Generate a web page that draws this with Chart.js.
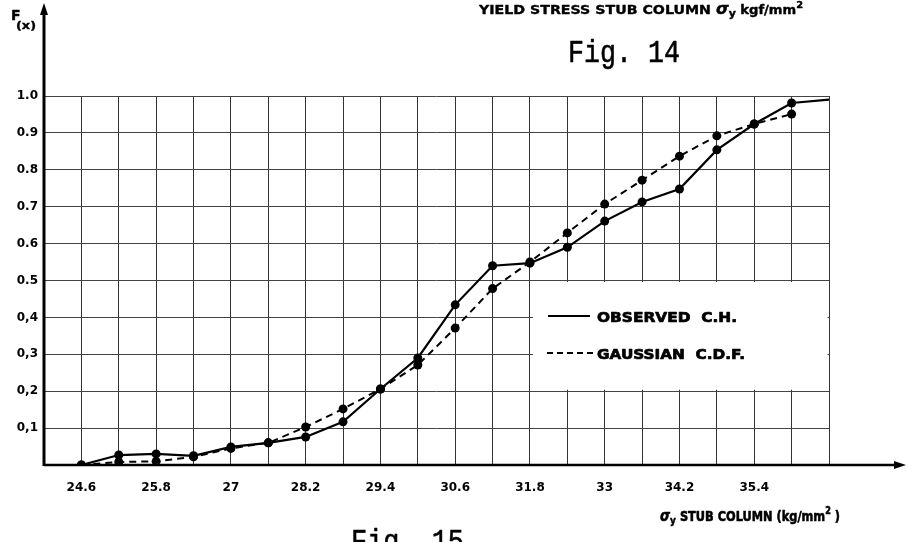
<!DOCTYPE html>
<html><head><meta charset="utf-8">
<script src="https://cdn.jsdelivr.net/npm/chart.js@4.4.0/dist/chart.umd.min.js"></script>
<style>html,body{margin:0;padding:0;background:#fff;} canvas{display:block;}</style>
</head><body>
<canvas id="c" width="909" height="542"></canvas>
<script>
// ---- data ----
const xValues = [24.6,25.2,25.8,26.4,27.0,27.6,28.2,28.8,29.4,30.0,30.6,31.2,31.8,32.4,33.0,33.6,34.2,34.8,35.4,36.0,36.6];
const observed = [0,0.027,0.03,0.025,0.049,0.06,0.076,0.117,0.206,0.29,0.434,0.54,0.547,0.59,0.661,0.713,0.748,0.854,0.924,0.981,0.99];
const gaussian = [0,0.008,0.01,0.022,0.045,0.06,0.103,0.152,0.206,0.271,0.371,0.478,0.55,0.629,0.707,0.772,0.837,0.892,0.924,0.951];
const xLabelValues = [24.6,25.8,27.0,28.2,29.4,30.6,31.8,33.0,34.2,35.4];
const xLabelTexts = ['24.6','25.8','27','28.2','29.4','30.6','31.8','33','34.2','35.4'];
const yTickValues = [0.1,0.2,0.3,0.4,0.5,0.6,0.7,0.8,0.9,1.0];
const yTickTexts = ['0,1','0,2','0,3','0,4','0.5','0.6','0.7','0.8','0.9','1.0'];
const seriesNames = ['OBSERVED  C.H.','GAUSSIAN  C.D.F.'];

const BOLD = '"DejaVu Sans", sans-serif';

function rich(ctx, x, y, parts, targetW, sy, stroke) {
  ctx.save();
  let tot = 0;
  const ws = parts.map(p => { ctx.font = p.f; const w = ctx.measureText(p.t).width; tot += w; return w; });
  const sx = targetW ? targetW / tot : 1;
  ctx.translate(x, y); ctx.scale(sx, sy || 1);
  ctx.fillStyle = '#000'; ctx.strokeStyle = '#000'; ctx.textBaseline = 'alphabetic'; ctx.textAlign = 'left';
  ctx.lineWidth = stroke || 0; ctx.lineJoin = 'round';
  let cx = 0;
  parts.forEach((p, i) => {
    ctx.font = p.f; ctx.fillText(p.t, cx, p.dy || 0);
    if (stroke) ctx.strokeText(p.t, cx, p.dy || 0);
    cx += ws[i];
  });
  ctx.restore();
}

const decor = {
  id: 'decor',
  beforeDatasetsDraw(chart) {
    const ctx = chart.ctx, xs = chart.scales.x, ys = chart.scales.y;
    ctx.save();
    ctx.fillStyle = '#fff';
    const l = xs.getPixelForValue(31.8) + 3, r = xs.getPixelForValue(36.6) - 1.5;
    const t = ys.getPixelForValue(0.5) + 1.5, b = ys.getPixelForValue(0.2) - 1.5;
    ctx.fillRect(l, t, r - l, b - t);
    ctx.restore();
  },
  afterDraw(chart) {
    const ctx = chart.ctx, a = chart.chartArea;
    ctx.save();
    ctx.strokeStyle = '#000'; ctx.fillStyle = '#000';
    ctx.lineWidth = 3;
    ctx.beginPath(); ctx.moveTo(a.left, a.bottom + 1); ctx.lineTo(a.left, 10); ctx.stroke();
    ctx.beginPath(); ctx.moveTo(a.left, 3); ctx.lineTo(a.left - 4, 15); ctx.lineTo(a.left + 4, 15); ctx.closePath(); ctx.fill();
    ctx.lineWidth = 2.5;
    ctx.beginPath(); ctx.moveTo(a.left, a.bottom); ctx.lineTo(897, a.bottom); ctx.stroke();
    ctx.beginPath(); ctx.moveTo(906, a.bottom); ctx.lineTo(894, a.bottom - 4); ctx.lineTo(894, a.bottom + 4); ctx.closePath(); ctx.fill();
    ctx.lineWidth = 2;
    ctx.beginPath(); ctx.moveTo(548, 316); ctx.lineTo(590, 316); ctx.stroke();
    ctx.setLineDash([6, 4]);
    ctx.beginPath(); ctx.moveTo(547, 353); ctx.lineTo(593, 353); ctx.stroke();
    ctx.setLineDash([]);
    ctx.restore();
    rich(ctx, 597, 322, [{t: seriesNames[0], f: 'bold 14px ' + BOLD}], 140, 1, 0.7);
    rich(ctx, 597, 359, [{t: seriesNames[1], f: 'bold 14px ' + BOLD}], 148, 1, 0.7);
    rich(ctx, 11, 20, [{t: 'F', f: 'bold 14px ' + BOLD}], 0, 1, 0.4);
    rich(ctx, 16, 29, [{t: '(x)', f: 'bold 11px ' + BOLD}], 20, 1, 0.4);
    rich(ctx, 479, 14, [
      {t: 'YIELD STRESS STUB COLUMN ', f: 'bold 13px ' + BOLD},
      {t: 'σ', f: 'italic bold 15px ' + BOLD},
      {t: 'y', f: 'bold 10px ' + BOLD, dy: 3},
      {t: ' kgf/mm', f: 'bold 12px ' + BOLD},
      {t: '2', f: 'bold 9px ' + BOLD, dy: -6}
    ], 324, 1, 0.4);
    rich(ctx, 568, 62, [{t: 'Fig. 14', f: '28px "Liberation Mono", monospace'}], 112, 1.15, 0.5);
    rich(ctx, 660, 521, [
      {t: 'σ', f: 'italic bold 16px ' + BOLD},
      {t: 'y', f: 'bold 11px ' + BOLD, dy: 3},
      {t: ' STUB COLUMN (kg/mm', f: 'bold 14px ' + BOLD},
      {t: '2', f: 'bold 10px ' + BOLD, dy: -7},
      {t: ' )', f: 'bold 14px ' + BOLD}
    ], 180, 1, 0.6);
    rich(ctx, 351, 551, [{t: 'Fig. 15', f: '28px "Liberation Mono", monospace'}], 113, 1.15, 0.5);
  }
};

new Chart(document.getElementById('c'), {
  type: 'line',
  data: {
    datasets: [
      {
        label: seriesNames[0],
        data: observed.map((y, i) => ({x: xValues[i], y})),
        borderColor: '#000', backgroundColor: '#000',
        borderWidth: 2.2,
        pointRadius: ctx => ctx.dataIndex === observed.length - 1 ? 0 : 4.5,
        pointBackgroundColor: '#000', pointBorderWidth: 0,
        tension: 0
      },
      {
        label: seriesNames[1],
        data: gaussian.map((y, i) => ({x: xValues[i], y})),
        borderColor: '#000', backgroundColor: '#000',
        borderWidth: 2, borderDash: [7, 5],
        pointRadius: 4.5, pointBackgroundColor: '#000', pointBorderWidth: 0,
        tension: 0
      }
    ]
  },
  options: {
    responsive: false, animation: false, devicePixelRatio: 1,
    layout: {padding: {top: 96, right: 80, left: 0, bottom: 0}},
    plugins: {legend: {display: false}, tooltip: {enabled: false}},
    scales: {
      x: {
        type: 'linear', min: 24, max: 36.6,
        afterBuildTicks: s => { s.ticks = xValues.map(v => ({value: v})); },
        afterFit: s => { s.height = 77; },
        ticks: {
          autoSkip: false, maxRotation: 0, padding: 16, color: '#000',
          font: {family: BOLD, weight: 'bold', size: 12},
          callback: v => { const i = xLabelValues.findIndex(u => Math.abs(u - v) < 1e-6); return i >= 0 ? xLabelTexts[i] : ''; }
        },
        grid: {color: '#333', lineWidth: 1, drawTicks: false},
        border: {display: false}
      },
      y: {
        min: 0, max: 1.0,
        afterBuildTicks: s => { s.ticks = yTickValues.map(v => ({value: v})); },
        afterFit: s => { s.width = 44; },
        ticks: {
          padding: 6, color: '#000',
          font: {family: BOLD, weight: 'bold', size: 12},
          callback: v => { const i = yTickValues.findIndex(u => Math.abs(u - v) < 1e-6); return i >= 0 ? yTickTexts[i] : ''; }
        },
        grid: {color: '#444', lineWidth: 1, drawTicks: false},
        border: {display: false}
      }
    }
  },
  plugins: [decor]
});
</script>
</body></html>
